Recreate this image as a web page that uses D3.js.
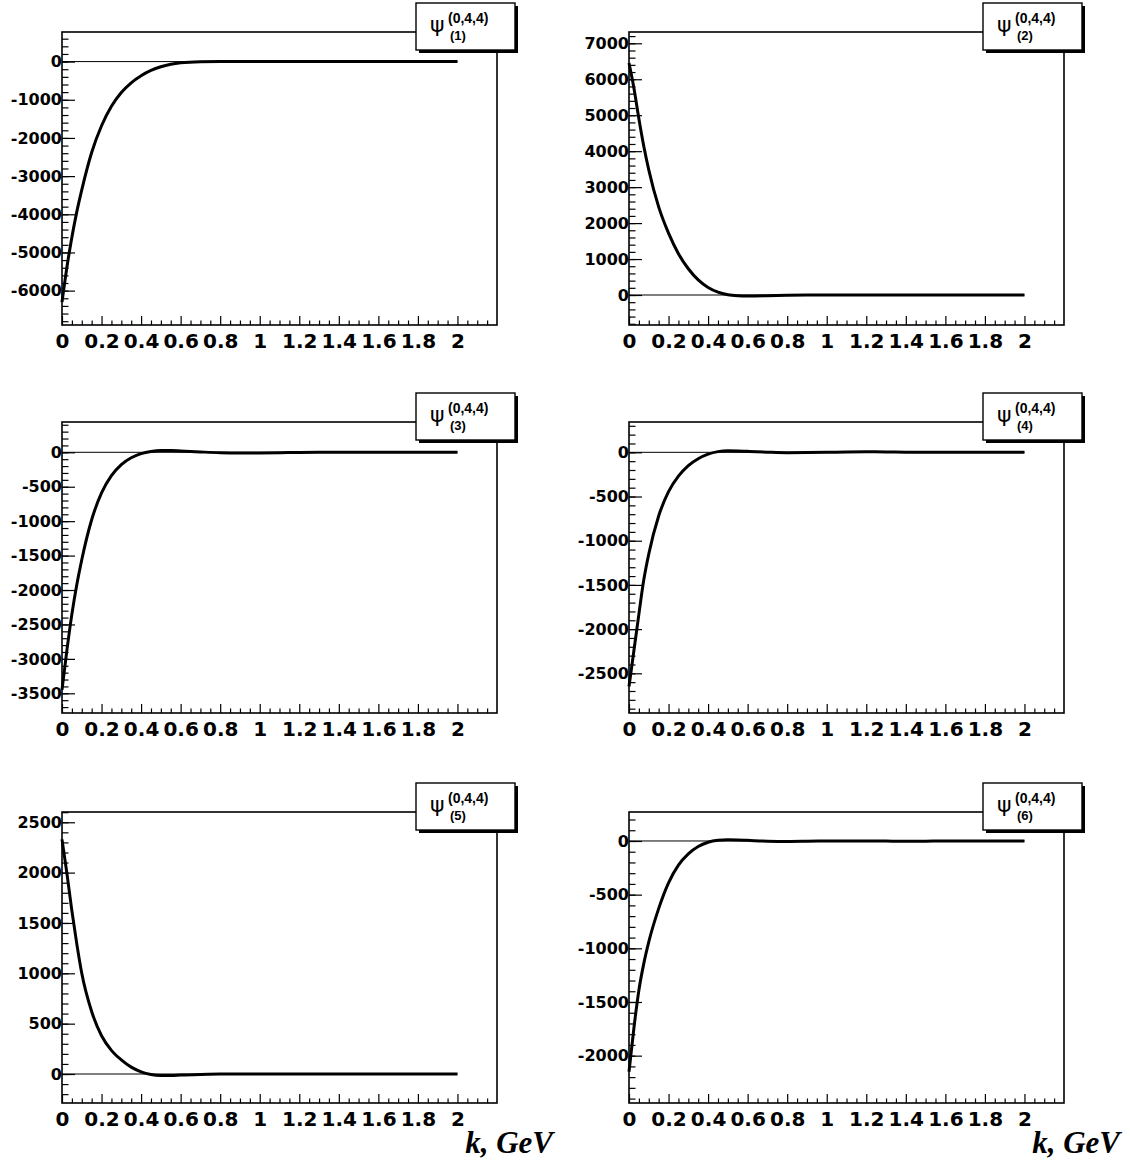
<!DOCTYPE html>
<html><head><meta charset="utf-8">
<script src="https://cdn.jsdelivr.net/npm/d3@7"></script>
<style>body{margin:0;background:#fff;} svg{display:block;}</style>
</head><body>
<svg id="c" width="1130" height="1160"></svg>
<script>
// ---- data ----
const kValues = [0,0.025,0.05,0.075,0.1,0.15,0.2,0.25,0.3,0.35,0.4,0.45,0.5,0.55,0.6,0.7,0.8,0.9,1.0,1.1,1.2,1.3,1.4,1.5,1.6,1.8,2.0];
const psi1 = [-6300,-5380,-4600,-3930,-3360,-2380,-1680,-1170,-810,-555,-370,-232,-135,-70,-32,-5,0,0,0,0,0,0,0,0,0,0,0];
const psi2 = [6450,5750,4900,4130,3480,2450,1720,1150,730,420,210,80,10,-20,-30,-22,-8,-2,0,0,0,0,0,0,0,0,0];
const psi3 = [-3450,-2870,-2350,-1920,-1560,-980,-590,-340,-180,-80,-20,12,25,25,18,5,-6,-10,-9,-6,-2,0,0,0,0,0,0];
const psi4 = [-2650,-2240,-1830,-1440,-1150,-720,-445,-270,-150,-72,-20,8,18,16,11,2,-4,-3,0,4,6,4,1,0,0,0,0];
const psi5 = [2330,1990,1620,1290,1000,620,380,235,140,68,22,-4,-14,-15,-11,-4,-1,0,0,0,0,0,0,0,0,0,0];
const psi6 = [-2150,-1740,-1390,-1140,-940,-630,-390,-225,-120,-52,-12,6,11,10,6,-2,-5,-3,0,1,1,-1,-3,-2,0,0,0];
const seriesList = [psi1, psi2, psi3, psi4, psi5, psi6];
const panelLabels = ["(1)","(2)","(3)","(4)","(5)","(6)"];
const xTickValues = [0,0.2,0.4,0.6,0.8,1,1.2,1.4,1.6,1.8,2];
const xTickLabels = ["0","0.2","0.4","0.6","0.8","1","1.2","1.4","1.6","1.8","2"];
const yTicks1 = [-6000,-5000,-4000,-3000,-2000,-1000,0];
const yTicks2 = [0,1000,2000,3000,4000,5000,6000,7000];
const yTicks3 = [-3500,-3000,-2500,-2000,-1500,-1000,-500,0];
const yTicks4 = [-2500,-2000,-1500,-1000,-500,0];
const yTicks5 = [0,500,1000,1500,2000,2500];
const yTicks6 = [-2000,-1500,-1000,-500,0];
const yTickList = [yTicks1,yTicks2,yTicks3,yTicks4,yTicks5,yTicks6];
const yRanges = [[-6900,775],[-834,7314],[-3786,440],[-2949,343],[-288,2602],[-2441,270]];
const yMinorSteps = [200,200,100,100,100,100];
const xTitle = "k, GeV";

// ---- layout ----
const colX = [62, 629];
const rowY = [32, 422, 812];
const rowH = [293, 291, 291];
const frameW = 435;

const svg = d3.select("#c");
svg.append("rect").attr("width",1130).attr("height",1160).attr("fill","#fff");

seriesList.forEach((vals, i) => {
  const col = i % 2, row = Math.floor(i / 2);
  const fx = colX[col], fy = rowY[row], fh = rowH[row];
  const x = d3.scaleLinear().domain([0, 2.2]).range([fx, fx + frameW]);
  const y = d3.scaleLinear().domain(yRanges[i]).range([fy + fh, fy]);
  const g = svg.append("g");

  // minor x ticks
  const xMinor = d3.range(0, 2.2001, 0.05).filter(v => Math.abs(v/0.2 - Math.round(v/0.2)) > 1e-6);
  g.append("g").attr("transform", `translate(0,${fy+fh})`)
    .call(d3.axisBottom(x).tickValues(xMinor).tickSize(-4.5).tickFormat(""))
    .call(s => s.select(".domain").remove())
    .call(s => s.selectAll("line").attr("stroke","#000").attr("stroke-width",1.2));
  // major x ticks
  g.append("g").attr("transform", `translate(0,${fy+fh})`)
    .call(d3.axisBottom(x).tickValues(xTickValues).tickSize(-9).tickPadding(9)
      .tickFormat((d, j) => xTickLabels[j]))
    .call(s => s.select(".domain").remove())
    .call(s => s.selectAll("line").attr("stroke","#000").attr("stroke-width",1.2))
    .call(s => s.selectAll("text").attr("fill","#000")
      .style("font-family","'DejaVu Sans', sans-serif").style("font-weight","bold").style("font-size","20px"));

  // minor y ticks
  const [y0, y1] = yRanges[i];
  const step = yMinorSteps[i];
  const yMinor = d3.range(Math.ceil(y0/step)*step, y1 + 0.001, step);
  g.append("g").attr("transform", `translate(${fx},0)`)
    .call(d3.axisLeft(y).tickValues(yMinor).tickSize(-6.5).tickFormat(""))
    .call(s => s.select(".domain").remove())
    .call(s => s.selectAll("line").attr("stroke","#000").attr("stroke-width",1.2));
  // major y ticks
  g.append("g").attr("transform", `translate(${fx},0)`)
    .call(d3.axisLeft(y).tickValues(yTickList[i]).tickSize(-13).tickPadding(0)
      .tickFormat(d3.format("d")))
    .call(s => s.select(".domain").remove())
    .call(s => s.selectAll("line").attr("stroke","#000").attr("stroke-width",1.2))
    .call(s => s.selectAll("text").attr("fill","#000").text(d => String(d))
      .style("font-family","'DejaVu Sans', sans-serif").style("font-weight","bold").style("font-size","16px"));

  // frame
  g.append("rect").attr("x", fx).attr("y", fy).attr("width", frameW).attr("height", fh)
    .attr("fill","none").attr("stroke","#000").attr("stroke-width",1.6);

  // zero line
  g.append("line").attr("x1", x(0)).attr("x2", x(2)).attr("y1", y(0)).attr("y2", y(0))
    .attr("stroke","#000").attr("stroke-width",1);

  // curve
  const pts = kValues.map((k, j) => [k, vals[j]]);
  g.append("path").datum(pts)
    .attr("d", d3.line().x(d => x(d[0])).y(d => y(d[1])).curve(d3.curveMonotoneX))
    .attr("fill","none").attr("stroke","#000").attr("stroke-width",3).attr("stroke-linejoin","round");

  // legend box
  const bx = fx + 354, by = fy - 29, bw = 99, bh = 47;
  g.append("rect").attr("x", bx + 3).attr("y", by + 3).attr("width", bw).attr("height", bh).attr("fill","#000");
  g.append("rect").attr("x", bx).attr("y", by).attr("width", bw).attr("height", bh)
    .attr("fill","#fff").attr("stroke","#000").attr("stroke-width",1.4);
  g.append("text").attr("x", bx + 14).attr("y", by + 29).text("\u03C8")
    .style("font-family","'DejaVu Sans', sans-serif").style("font-size","22px").attr("fill","#000");
  g.append("text").attr("x", bx + 32).attr("y", by + 20).text("(0,4,4)")
    .style("font-family","'Liberation Sans', Arial, sans-serif").style("font-weight","bold").style("font-size","14px").attr("fill","#000");
  g.append("text").attr("x", bx + 34).attr("y", by + 37).text(panelLabels[i])
    .style("font-family","'Liberation Sans', Arial, sans-serif").style("font-weight","bold").style("font-size","13px").attr("fill","#000");

  // x-axis title in bottom row
  if (row === 2) {
    g.append("text").attr("x", fx + frameW + 56).attr("y", 1153).attr("text-anchor","end").text(xTitle)
      .style("font-family","'Liberation Serif', serif").style("font-weight","bold").style("font-style","italic")
      .style("font-size","31px").attr("fill","#000");
  }
});
</script>
</body></html>
